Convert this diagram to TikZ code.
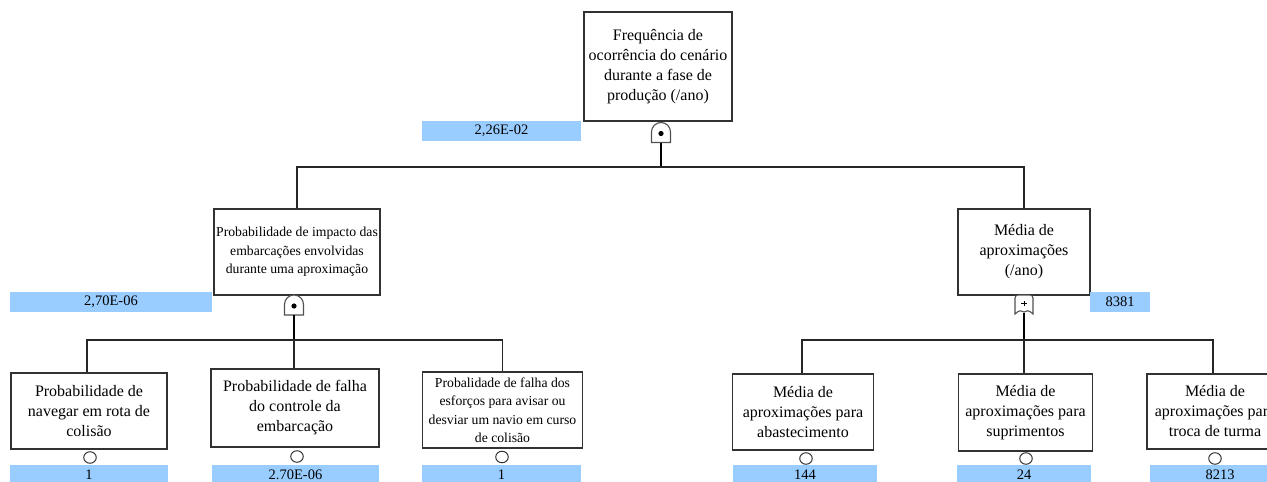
\documentclass[tikz,border=0pt]{standalone}
\usepackage{fontspec}
\usetikzlibrary{shapes.geometric}
\setmainfont{Liberation Serif}
\definecolor{valblue}{RGB}{153,204,255}
\definecolor{boxgray}{RGB}{50,50,50}
\definecolor{gategray}{RGB}{80,80,80}
\begin{document}
\begin{tikzpicture}[x=1pt,y=-1pt,
  box/.style={draw=boxgray, line width=1.2pt, fill=white, align=center, inner sep=0pt,
              font=\fontsize{16}{20}\selectfont},
  smallbox/.style={box, font=\fontsize{13.7}{18.5}\selectfont},
  val/.style={fill=valblue, inner sep=0pt, minimum height=20pt,
              font=\fontsize{14.5}{17}\selectfont},
  ev/.style={ellipse, draw=black!80, line width=1pt, fill=white, minimum width=12.5pt,
             minimum height=11.5pt, inner sep=0pt},
  wire/.style={draw=black!85, line width=1.3pt},
  stem/.style={draw=black, line width=1.9pt},
  gate/.style={draw=gategray, line width=1.1pt, fill=white},
  andgate/.pic={\draw[gate] (-9.5,20) -- (-9.5,9.5) arc (180:360:9.5) -- (9.5,20) -- cycle;
                \fill (0,11) circle (2.6);},
  orgate/.pic={\draw[gate] (-9,19) -- (-9,3) arc (180:270:3) -- (6,0) arc (270:360:3) -- (9,19)
                 .. controls (5,15) and (2,15) .. (0,17) .. controls (-2,15) and (-5,15) .. cycle;
               \draw[black, line width=0.8pt] (-2.6,8.5) -- (2.6,8.5) (0,5.9) -- (0,11.1);}
]
\useasboundingbox (0,0) rectangle (1267,482);
\clip (0,0) rectangle (1267,482);
\fill[white] (0,0) rectangle (1267,482);

% ---------- top ----------
\node[box, minimum width=148pt, minimum height=109pt] (top) at (658,66.5)
  {Frequência de\\ocorrência do cenário\\durante a fase de\\produção (/ano)};
\node[val, minimum width=159pt] (vtop) at (501.5,131) {2,26E-02};
\pic at (661,122.5) {andgate};
\coordinate (g1) at (661,142.5);
\coordinate (j1) at (661,167);

% ---------- middle ----------
\node[smallbox, minimum width=166pt, minimum height=86pt] (mL) at (297,252)
  {Probabilidade de impacto das\\embarcações envolvidas\\durante uma aproximação};
\node[val, minimum width=202pt] (vmL) at (111,302) {2,70E-06};
\pic at (294,295) {andgate};
\coordinate (g2) at (294,315);
\coordinate (j2) at (294,340);

\node[box, minimum width=132pt, minimum height=86pt] (mR) at (1024,252)
  {Média de\\aproximações\\(/ano)};
\node[val, minimum width=60pt] (vmR) at (1120,302) {8381};
\pic at (1024,295) {orgate};
\coordinate (g3) at (1024,313);
\coordinate (j3) at (1024,340);

% ---------- bottom ----------
\node[box, minimum width=156pt, minimum height=76pt] (b1) at (89,411)
  {Probabilidade de\\navegar em rota de\\colisão};
\node[box, minimum width=168pt, minimum height=78pt] (b2) at (295,408)
  {Probabilidade de falha\\do controle da\\embarcação};
\node[smallbox, minimum width=160pt, minimum height=76pt] (b3) at (502.5,410)
  {Probalidade de falha dos\\esforços para avisar ou\\desviar um navio em curso\\de colisão};
\node[box, minimum width=141pt, minimum height=76pt] (b4) at (803,412)
  {Média de\\aproximações para\\abastecimento};
\node[box, minimum width=134pt, minimum height=77pt] (b5) at (1025.5,412.5)
  {Média de\\aproximações para\\suprimentos};
\node[box, minimum width=136pt, minimum height=75pt] (b6) at (1215,411.5)
  {Média de\\aproximações para\\troca de turma};

\node[ev] (e1) at (90,457.5) {};
\node[ev] (e2) at (297,456.5) {};
\node[ev] (e3) at (502,457) {};
\node[ev] (e4) at (806,458.5) {};
\node[ev] (e5) at (1026,458.5) {};
\node[ev] (e6) at (1215,458.5) {};

\node[val, minimum width=158pt] (v1) at (89,475) {1};
\node[val, minimum width=167pt] (v2) at (295.5,475) {2.70E-06};
\node[val, minimum width=159pt] (v3) at (501.5,475) {1};
\node[val, minimum width=144pt] (v4) at (805,475) {144};
\node[val, minimum width=134pt] (v5) at (1024,475) {24};
\node[val, minimum width=140pt] (v6) at (1220,475) {8213};

% ---------- connectors ----------
\draw[stem] (g1) -- (j1);
\draw[wire] (mL.north) -- (mL.north |- j1) -- (mR.north |- j1) -- (mR.north);

\draw[stem] (g2) -- (j2);
\draw[wire] ([xshift=-2pt]b1.north) -- ([xshift=-2pt]b1.north |- j2) -- (b3.north |- j2) -- (b3.north);
\draw[wire] (j2) -- (j2 |- b2.north);

\draw[stem] (g3) -- (j3);
\draw[wire] ([xshift=-1pt]b4.north) -- ([xshift=-1pt]b4.north |- j3) -- ([xshift=-2pt]b6.north |- j3) -- ([xshift=-2pt]b6.north);
\draw[wire] (j3) -- (j3 |- b5.north);
\end{tikzpicture}
\end{document}
